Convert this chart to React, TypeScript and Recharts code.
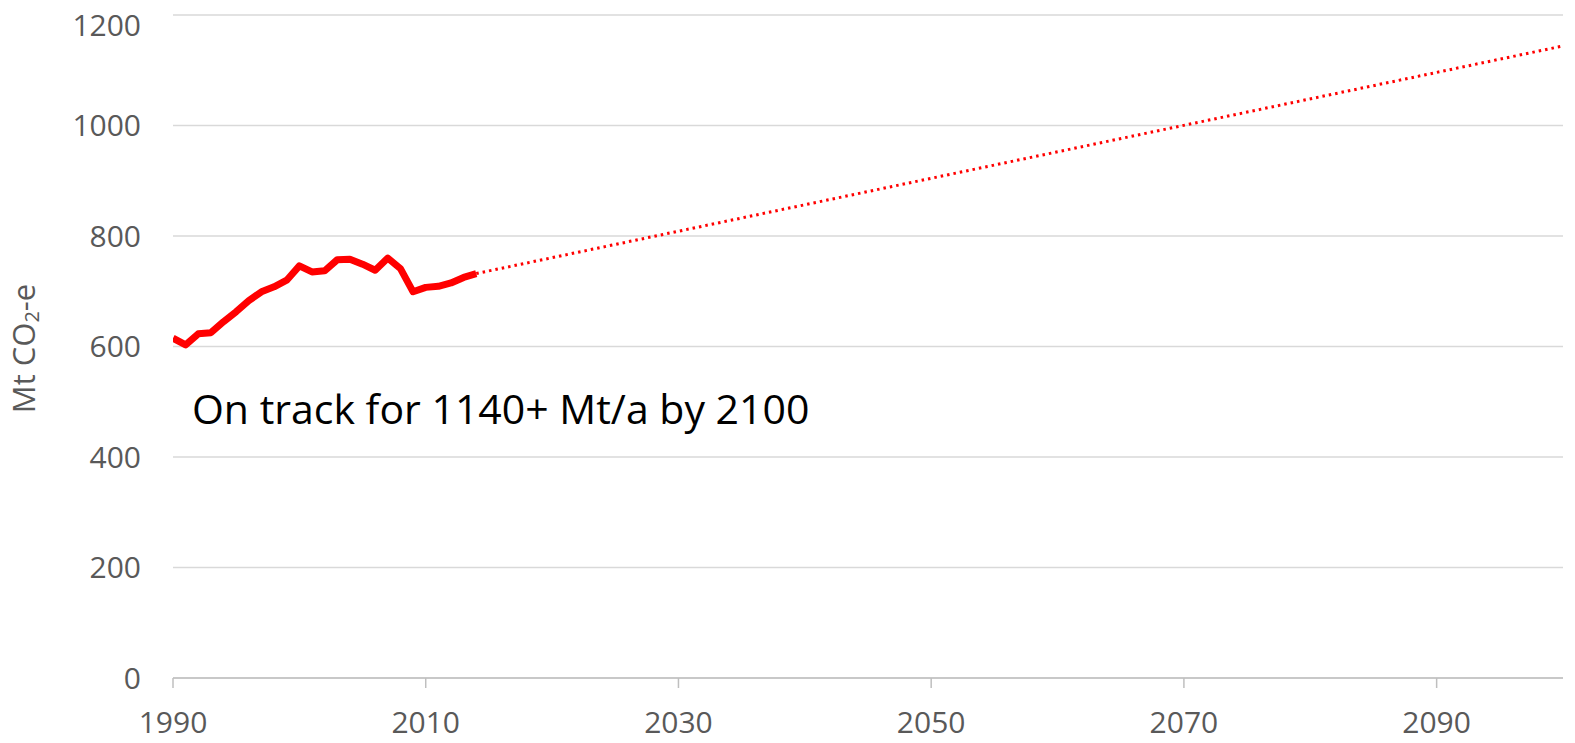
import {
  LineChart, Line, XAxis, YAxis, CartesianGrid, ReferenceDot, Label
} from "recharts";

const years = [
  1990, 1991, 1992, 1993, 1994, 1995, 1996, 1997, 1998, 1999, 2000, 2001, 2002,
  2003, 2004, 2005, 2006, 2007, 2008, 2009, 2010, 2011, 2012, 2013, 2014,
];
const emissions = [
  615, 603, 623, 625, 645, 663, 683, 699, 708, 720, 746, 735, 737,
  757, 758, 749, 738, 760, 741, 699, 707, 709, 715, 725, 732,
];
const trendYears = [2014, 2100];
const trendValues = [732, 1144];
const xTicks = [1990, 2010, 2030, 2050, 2070, 2090];
const yTicks = [0, 200, 400, 600, 800, 1000, 1200];

const histData = years.map((year, i) => ({ year, value: emissions[i] }));
const trendData = trendYears.map((year, i) => ({ year, value: trendValues[i] }));

const font = "'Open Sans', sans-serif";
const tickStyle = { fill: "#595959", fontSize: 30, fontFamily: font };

const AxisTitle = (props: any) => {
  const vb = props.viewBox || { x: 0, y: 0, width: 0, height: 0 };
  const cx = vb.x + 15;
  const cy = vb.y + vb.height / 2 + 2;
  return (
    <text
      x={cx}
      y={cy}
      transform={`rotate(-90, ${cx}, ${cy})`}
      textAnchor="middle"
      dominantBaseline="central"
      fill="#595959"
      fontSize={31}
      fontFamily={font}
    >
      <tspan>Mt CO</tspan>
      <tspan dy={8} fontSize={20}>2</tspan>
      <tspan dy={-8}>-e</tspan>
    </text>
  );
};

const Note = (props: any) => {
  const vb = props.viewBox || { x: 0, y: 0 };
  return (
    <text
      x={vb.x}
      y={vb.y}
      textAnchor="start"
      dominantBaseline="central"
      fill="#000000"
      fontSize={41}
      fontFamily={font}
    >
      On track for 1140+ Mt/a by 2100
    </text>
  );
};

const App = () => {
  return (
    <LineChart
      width={1567}
      height={735}
      margin={{ top: 7, right: 12, left: 0, bottom: 0 }}
    >
      <CartesianGrid vertical={false} stroke="#d9d9d9" strokeWidth={1.5} />
      <XAxis
        dataKey="year"
        type="number"
        domain={[1990, 2100]}
        ticks={xTicks}
        allowDataOverflow
        height={65}
        stroke="#bfbfbf"
        strokeWidth={1.5}
        tickSize={10}
        tickMargin={24}
        tick={tickStyle}
      />
      <YAxis
        type="number"
        domain={[0, 1200]}
        ticks={yTicks}
        width={165}
        axisLine={false}
        tickLine={false}
        tickSize={0}
        tickMargin={32}
        tick={tickStyle}
      >
        <Label content={<AxisTitle />} />
      </YAxis>
      <Line
        data={histData}
        dataKey="value"
        stroke="#ff0000"
        strokeWidth={7}
        strokeLinejoin="round"
        dot={false}
        isAnimationActive={false}
      />
      <Line
        data={trendData}
        dataKey="value"
        stroke="#ff0000"
        strokeWidth={3}
        strokeDasharray="2.5 4"
        dot={false}
        isAnimationActive={false}
      />
      <ReferenceDot x={1991.5} y={489} r={0} fill="none" stroke="none" label={<Note />} />
    </LineChart>
  );
};

export default App;
